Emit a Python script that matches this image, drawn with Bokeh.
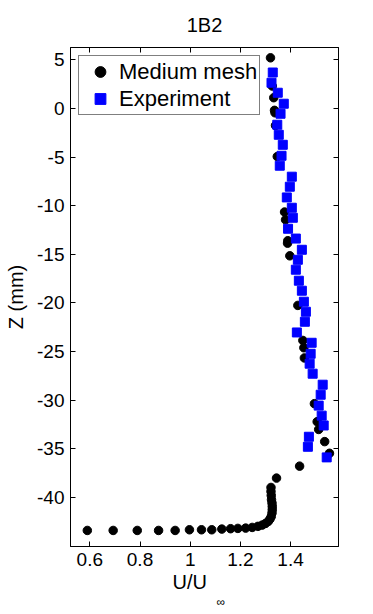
from bokeh.plotting import figure
from bokeh.models import Range1d, LinearAxis, FixedTicker, Legend, LegendItem, Title
from bokeh.embed import file_html
from bokeh.resources import INLINE

# ---- data ----
mesh_u = [1.320, 1.327, 1.333, 1.336, 1.338, 1.340, 1.347, 1.376, 1.380, 1.389, 1.388,
          1.397, 1.429, 1.449, 1.453, 1.455, 1.495, 1.506, 1.512, 1.536, 1.555, 1.436,
          1.344, 1.322, 1.322, 1.323, 1.324, 1.326, 1.327, 1.327, 1.326, 1.323, 1.318,
          1.311, 1.300, 1.287, 1.270, 1.247, 1.221, 1.190, 1.161, 1.126, 1.086, 1.045,
          0.997, 0.940, 0.874, 0.789, 0.693, 0.590]
mesh_z = [5.2, 2.3, 1.1, -0.2, -0.45, -1.75, -4.95, -10.65, -11.45, -13.6, -13.85,
          -15.15, -20.25, -23.85, -24.6, -25.65, -30.35, -32.2, -33.0, -34.25, -35.45, -36.77,
          -38.0, -38.96, -39.37, -39.78, -40.22, -40.57, -40.91, -41.25, -41.59, -41.94, -42.21,
          -42.45, -42.66, -42.83, -42.96, -43.07, -43.14, -43.17, -43.2, -43.24, -43.31, -43.31,
          -43.31, -43.38, -43.38, -43.38, -43.38, -43.38]

exp_u = [1.329, 1.324, 1.349, 1.373, 1.360, 1.347, 1.353, 1.369, 1.364, 1.357,
         1.405, 1.397, 1.385, 1.405, 1.409, 1.390, 1.421, 1.445, 1.429, 1.421,
         1.433, 1.445, 1.453, 1.461, 1.457, 1.425, 1.484, 1.480, 1.476, 1.488,
         1.528, 1.520, 1.512, 1.524, 1.532, 1.473, 1.469, 1.544]
exp_z = [3.69, 2.64, 1.61, 0.48, -0.55, -1.68, -2.71, -3.74, -4.87, -5.89,
         -7.02, -8.05, -9.15, -10.21, -11.24, -12.37, -13.38, -14.53, -15.56, -16.58,
         -17.71, -18.74, -19.87, -20.90, -21.93, -23.03, -24.09, -25.22, -26.24, -27.27,
         -28.40, -29.43, -30.55, -31.58, -32.59, -33.75, -34.78, -35.87]

x_ticks = [0.6, 0.8, 1.0, 1.2, 1.4]
x_tick_labels = ["0.6", "0.8", "1", "1.2", "1.4"]
y_ticks = [-40, -35, -30, -25, -20, -15, -10, -5, 0, 5]
y_tick_labels = ["-40", "-35", "-30", "-25", "-20", "-15", "-10", "-5", "0", "5"]

FONT = "Liberation Sans"

p = figure(width=373, height=614, output_backend="svg", toolbar_location=None,
           x_range=Range1d(0.523, 1.591), y_range=Range1d(-45.03, 6.26),
           min_border_left=70, min_border_right=35, min_border_top=46, min_border_bottom=68,
           title="1B2", x_axis_location=None, y_axis_location=None)
p.grid.visible = False
p.outline_line_color = "black"
p.outline_line_width = 1
p.background_fill_color = "white"
p.border_fill_color = "white"

p.title.align = "center"
p.title.text_font = FONT
p.title.text_font_size = "20px"
p.title.text_font_style = "normal"
p.title.text_color = "black"
p.title.standoff = 23


def style_axis(ax, ticks, labels, show):
    ax.ticker = FixedTicker(ticks=ticks)
    ax.major_label_overrides = {t: (l if show else "") for t, l in zip(ticks, labels)}
    ax.major_tick_in = 5
    ax.major_tick_out = 0
    ax.minor_tick_line_color = None
    ax.axis_line_color = "black"
    ax.major_tick_line_color = "black"
    ax.major_label_text_font = FONT
    ax.major_label_text_font_size = "19px"
    ax.major_label_text_color = "black"
    ax.major_label_standoff = 6
    ax.axis_label_text_font = FONT
    ax.axis_label_text_font_style = "normal"
    ax.axis_label_text_color = "black"


bottom = LinearAxis()
style_axis(bottom, x_ticks, x_tick_labels, True)
p.add_layout(bottom, "below")
top = LinearAxis()
style_axis(top, x_ticks, x_tick_labels, False)
top.major_label_standoff = 0
top.major_label_text_font_size = "1px"
p.add_layout(top, "above")
left = LinearAxis(axis_label="Z (mm)")
style_axis(left, y_ticks, y_tick_labels, True)
left.axis_label_text_font_size = "20px"
left.axis_label_standoff = 7
p.add_layout(left, "left")
right = LinearAxis()
style_axis(right, y_ticks, y_tick_labels, False)
right.major_label_standoff = 0
right.major_label_text_font_size = "1px"
p.add_layout(right, "right")

r1 = p.scatter(mesh_u, mesh_z, marker="circle", size=8.5, fill_color="black", line_color="black")
r2 = p.scatter(exp_u, exp_z, marker="square", size=9, fill_color="#0000ff", line_color="#0000ff")

legend = Legend(items=[LegendItem(label="Medium mesh", renderers=[r1]),
                       LegendItem(label="Experiment", renderers=[r2])],
                location="top_left", margin=8)
legend.border_line_color = "black"
legend.border_line_width = 1
legend.background_fill_color = "white"
legend.background_fill_alpha = 1
legend.label_text_font = FONT
legend.label_text_font_size = "22px"
legend.label_text_color = "black"
legend.padding = 2
legend.spacing = 0
legend.label_height = 27
legend.glyph_height = 27
legend.glyph_width = 38
legend.label_standoff = 0
p.add_layout(legend)

# x-axis label with subscript, as two titles below the bottom axis
xl = Title(text="U/U", align="left", offset=102, standoff=0,
           text_font=FONT, text_font_size="20px", text_font_style="normal", text_color="black")
xs = Title(text="∞", align="left", offset=146, standoff=0,
           text_font=FONT, text_font_size="12px", text_font_style="normal", text_color="black")
p.add_layout(xl, "below")
p.add_layout(xs, "below")

open("out.html", "w").write(file_html(p, INLINE))
